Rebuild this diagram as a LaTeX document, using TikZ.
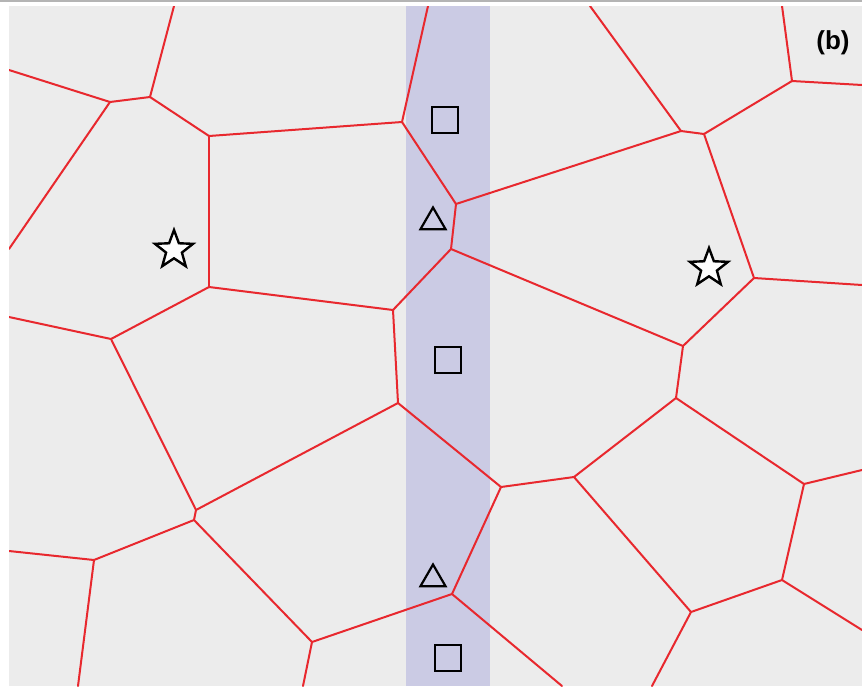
\documentclass[tikz,border=0pt]{standalone}
\usepackage{fontspec}
\setmainfont{Liberation Sans}
\usetikzlibrary{shapes.geometric}
\definecolor{panelbg}{HTML}{ECECEC}
\definecolor{bandcol}{HTML}{CBCBE4}
\definecolor{edgered}{HTML}{E8282E}
\definecolor{topbar}{HTML}{B4B4B4}
\tikzset{
  celledge/.style={draw=edgered,line width=2pt,line join=round,line cap=round},
  sqmark/.style={draw=black,line width=2.2pt,rectangle,inner sep=0pt,minimum size=26pt},
  trimark/.style={draw=black,line width=2.2pt,regular polygon,regular polygon sides=3,inner sep=0pt,minimum size=29pt},
  starmark/.style={draw=black,line width=2.4pt,star,star points=5,star point ratio=2.4,inner sep=0pt,minimum size=40pt,fill=white!92!panelbg},
  panellabel/.style={font=\fontsize{26}{26}\selectfont\bfseries,inner sep=0pt}
}
\begin{document}
\begin{tikzpicture}[x=1pt,y=-1pt]
\useasboundingbox (0,0) rectangle (862,686);
\fill[white] (0,0) rectangle (862,686);
\fill[topbar] (0,0) rectangle (862,2.2);
\fill[panelbg] (9,6) rectangle (862,686);
\fill[bandcol] (406,6) rectangle (490,686);
% vertices
\coordinate (A) at (150,97);
\coordinate (B) at (110,102);
\coordinate (C) at (209,136);
\coordinate (D) at (402,122);
\coordinate (E) at (209,287);
\coordinate (F) at (456,204);
\coordinate (G) at (681,131);
\coordinate (H) at (451,249);
\coordinate (I) at (704,134);
\coordinate (J) at (792,81);
\coordinate (K) at (754,278);
\coordinate (L) at (393,310);
\coordinate (M) at (111,339);
\coordinate (N1) at (196,510);
\coordinate (N2) at (194,520);
\coordinate (O) at (398,403);
\coordinate (P) at (94,560);
\coordinate (Q) at (312,642);
\coordinate (R) at (683,346);
\coordinate (S) at (501,487);
\coordinate (T) at (676,398);
\coordinate (U) at (574,477);
\coordinate (V) at (804,484);
\coordinate (W) at (452,594);
\coordinate (X) at (691,612);
\coordinate (Y) at (782,580);
% boundary ends
\coordinate (tA) at (174,6);
\coordinate (lB) at (9,70);
\coordinate (lB2) at (9,249);
\coordinate (tD) at (428,6);
\coordinate (tG) at (590,6);
\coordinate (tJ) at (782,6);
\coordinate (rJ) at (862,85);
\coordinate (rK) at (862,285);
\coordinate (lM) at (9,317);
\coordinate (lP) at (9,551);
\coordinate (bP) at (78,686);
\coordinate (bQ) at (303,686);
\coordinate (bW) at (562,686);
\coordinate (bX) at (652,686);
\coordinate (rV) at (862,470);
\coordinate (rY) at (862,630);
\begin{scope}
\clip (9,6) rectangle (862,686);
\draw[celledge] (tA) -- (A);
\draw[celledge] (lB) -- (B);
\draw[celledge] (B) -- (A);
\draw[celledge] (A) -- (C);
\draw[celledge] (C) -- (D);
\draw[celledge] (B) -- (lB2);
\draw[celledge] (C) -- (E);
\draw[celledge] (tD) -- (D);
\draw[celledge] (D) -- (F);
\draw[celledge] (F) -- (G);
\draw[celledge] (F) -- (H);
\draw[celledge] (tG) -- (G);
\draw[celledge] (G) -- (I);
\draw[celledge] (I) -- (J);
\draw[celledge] (J) -- (tJ);
\draw[celledge] (J) -- (rJ);
\draw[celledge] (I) -- (K);
\draw[celledge] (E) -- (L);
\draw[celledge] (E) -- (M);
\draw[celledge] (M) -- (lM);
\draw[celledge] (M) -- (N1);
\draw[celledge] (N1) -- (N2);
\draw[celledge] (N1) -- (O);
\draw[celledge] (N2) -- (P);
\draw[celledge] (N2) -- (Q);
\draw[celledge] (P) -- (lP);
\draw[celledge] (P) -- (bP);
\draw[celledge] (H) -- (L);
\draw[celledge] (L) -- (O);
\draw[celledge] (H) -- (R);
\draw[celledge] (O) -- (S);
\draw[celledge] (K) -- (rK);
\draw[celledge] (K) -- (R);
\draw[celledge] (R) -- (T);
\draw[celledge] (T) -- (U);
\draw[celledge] (T) -- (V);
\draw[celledge] (S) -- (U);
\draw[celledge] (S) -- (W);
\draw[celledge] (W) -- (Q);
\draw[celledge] (W) -- (bW);
\draw[celledge] (U) -- (X);
\draw[celledge] (V) -- (rV);
\draw[celledge] (V) -- (Y);
\draw[celledge] (Y) -- (X);
\draw[celledge] (Y) -- (rY);
\draw[celledge] (X) -- (bX);
\draw[celledge] (Q) -- (bQ);
\end{scope}
% markers
\node[sqmark] (sq1) at (445,120) {};
\node[sqmark] (sq2) at (448,360) {};
\node[sqmark] (sq3) at (448,658) {};
\node[trimark] (tri1) at (433,222) {};
\node[trimark] (tri2) at (433,579) {};
\node[starmark] (st1) at (174,250) {};
\node[starmark] (st2) at (709,268) {};
\node[panellabel] (lab) at (833,43) {(b)};
\end{tikzpicture}
\end{document}
